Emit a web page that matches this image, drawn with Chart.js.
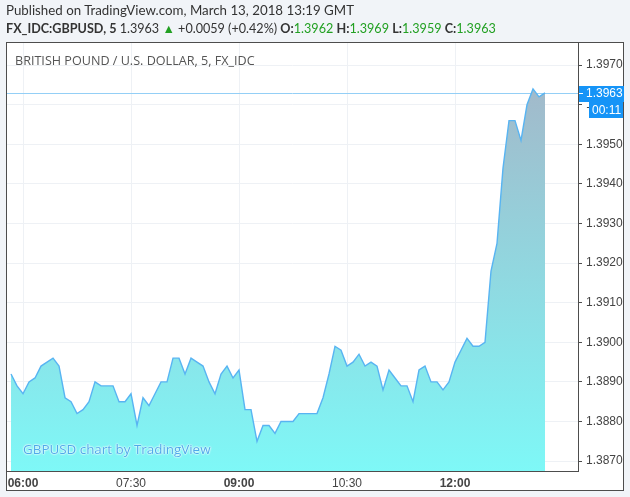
<!DOCTYPE html>
<html>
<head>
<meta charset="utf-8">
<script src="https://cdn.jsdelivr.net/npm/chart.js@4"></script>
<style>
  html, body { margin: 0; padding: 0; background: #f1f4f8; }
  #wrap { position: relative; width: 630px; height: 497px; overflow: hidden; }
  #chart { position: absolute; left: 0; top: 0; }
  .txt { position: absolute; white-space: nowrap; font-family: Lato, 'Open Sans', sans-serif; }
  #pub { left: 6px; top: 2px; font-size: 13.3px; color: #333; }
  #sym { left: 6px; top: 21px; font-size: 12.6px; color: #333; }
  #sym b { font-weight: bold; }
  #sym .g { color: #22a022; }
  #title { left: 15px; top: 52px; font-size: 12.6px; color: #555; font-family: 'Open Sans', sans-serif; }
  #wm { left: 23px; top: 440px; font-size: 13.4px; color: #4eaaea; font-family: 'Open Sans', sans-serif;
        text-shadow: 0 0 2px #fff, 0 0 2px #fff, 0 0 1px #fff; }
</style>
</head>
<body>
<div id="wrap">
  <canvas id="chart" width="630" height="497"></canvas>
  <div class="txt" id="pub">Published on TradingView.com, March 13, 2018 13:19 GMT</div>
  <div class="txt" id="sym"><b>FX_IDC:GBPUSD, 5</b> 1.3963 <span class="g">&#9650;</span> +0.0059 (+0.42%) <b>O:</b><span class="g">1.3962</span> <b>H:</b><span class="g">1.3969</span> <b>L:</b><span class="g">1.3959</span> <b>C:</b><span class="g">1.3963</span></div>
  <div class="txt" id="title">BRITISH POUND / U.S. DOLLAR, 5, FX_IDC</div>
  <div class="txt" id="wm">GBPUSD chart by TradingView</div>
</div>
<script>
// 5-minute closes, 05:50 .. 13:15
const closes = [
  1.3892, 1.3889, 1.3887, 1.3890, 1.3891, 1.3894, 1.3895, 1.3896, 1.3894, 1.3886,
  1.3885, 1.3882, 1.3883, 1.3885, 1.3890, 1.3889, 1.3889, 1.3889, 1.3885, 1.3885,
  1.3887, 1.3879, 1.3886, 1.3884, 1.3887, 1.3890, 1.3890, 1.3896, 1.3896, 1.3892,
  1.3896, 1.3895, 1.3894, 1.3890, 1.3887, 1.3892, 1.3894, 1.3891, 1.3893, 1.3883,
  1.3883, 1.3875, 1.3879, 1.3879, 1.3877, 1.3880, 1.3880, 1.3880, 1.3882, 1.3882,
  1.3882, 1.3882, 1.3886, 1.3892, 1.3899, 1.3898, 1.3894, 1.3895, 1.3897, 1.3894,
  1.3895, 1.3894, 1.3888, 1.3893, 1.3891, 1.3889, 1.3889, 1.3885, 1.3893, 1.3894,
  1.3890, 1.3890, 1.3888, 1.3890, 1.3895, 1.3898, 1.3901, 1.3899, 1.3899, 1.3900,
  1.3918, 1.3925, 1.3944, 1.3956, 1.3956, 1.3951, 1.3960, 1.3964, 1.3962, 1.3963
];
const startMinute = 5 * 60 + 50;
const times = closes.map((_, i) => {
  const m = startMinute + 5 * i;
  return String(Math.floor(m / 60)).padStart(2, '0') + ':' + String(m % 60).padStart(2, '0');
});
const xTickLabels = ['06:00', '07:30', '09:00', '10:30', '12:00'];
const boldTicks = ['06:00', '09:00', '12:00'];
const yTicks = [1.3870, 1.3880, 1.3890, 1.3900, 1.3910, 1.3920, 1.3930, 1.3940, 1.3950, 1.3960, 1.3970];
const countdown = '00:11';

const lastClose = closes[closes.length - 1];

// frame, price line and price labels
const tvPlugin = {
  id: 'tv',
  beforeDraw(chart) {
    const c = chart.ctx;
    c.save();
    c.fillStyle = '#ffffff';
    c.fillRect(6, 43, 617, 448);
    c.strokeStyle = '#4d4d4d';
    c.lineWidth = 1;
    c.strokeRect(6.5, 42.5, 617, 448);
    c.restore();
  },
  beforeDatasetsDraw(chart) {
    const c = chart.ctx;
    const a = chart.chartArea;
    const y = Math.round(chart.scales.y.getPixelForValue(lastClose)) + 0.5;
    c.save();
    c.strokeStyle = '#94cff6';
    c.lineWidth = 1;
    c.beginPath();
    c.moveTo(a.left, y);
    c.lineTo(a.right, y);
    c.stroke();
    c.restore();
  },
  afterDraw(chart) {
    const c = chart.ctx;
    const a = chart.chartArea;
    const y = Math.round(chart.scales.y.getPixelForValue(lastClose));
    c.save();
    c.fillStyle = '#1594f7';
    c.fillRect(a.right + 1, y - 7, 45, 16);
    c.fillRect(a.right + 11, y + 9, 34, 16);
    c.fillStyle = '#ffffff';
    c.fillRect(a.right + 1, y, 4, 1);
    c.font = '12px "Liberation Sans", Arial, sans-serif';
    c.textBaseline = 'middle';
    c.textAlign = 'left';
    c.fillText(lastClose.toFixed(4), a.right + 8, y + 1);
    c.fillText(countdown, a.right + 14, y + 17.5);
    c.restore();
  }
};

const ctx = document.getElementById('chart').getContext('2d');
const chart = new Chart(ctx, {
  type: 'line',
  data: {
    datasets: [{
      data: closes.map((v, i) => ({ x: i, y: v })),
      borderColor: '#58b4f2',
      borderWidth: 1.4,
      pointRadius: 0,
      tension: 0,
      fill: 'start',
      backgroundColor: (context) => {
        const area = context.chart.chartArea;
        if (!area) return 'rgba(126,246,246,0.8)';
        const g = context.chart.ctx.createLinearGradient(0, area.top, 0, area.bottom);
        g.addColorStop(0, '#a6b2c5');
        g.addColorStop(1, '#7ef8f7');
        return g;
      }
    }]
  },
  options: {
    responsive: false,
    animation: false,
    events: [],
    layout: { padding: { left: 7, top: 43, right: 7, bottom: 6 } },
    plugins: {
      legend: { display: false },
      tooltip: { enabled: false }
    },
    scales: {
      x: {
        type: 'linear',
        min: -0.67,
        max: 94.5,
        afterFit: (s) => { s.height = 20; },
        afterBuildTicks: (s) => { s.ticks = xTickLabels.map(l => ({ value: times.indexOf(l) })); },
        grid: { color: '#eef1f5', drawTicks: false },
        border: { color: '#4d4d4d' },
        ticks: {
          callback: (v) => times[v],
          color: '#444',
          padding: 5,
          maxRotation: 0,
          autoSkip: false,
          font: (c) => ({
            family: '"Liberation Sans", Arial, sans-serif',
            size: 12,
            weight: c.tick && boldTicks.includes(times[c.tick.value]) ? 'bold' : 'normal'
          })
        }
      },
      y: {
        position: 'right',
        min: 1.38675,
        max: 1.39756,
        afterFit: (s) => { s.width = 45; },
        afterBuildTicks: (s) => { s.ticks = yTicks.map(v => ({ value: v })); },
        grid: { color: '#eef1f5', tickColor: '#4d4d4d', tickLength: 4 },
        border: { color: '#4d4d4d' },
        ticks: {
          callback: (v) => v.toFixed(4),
          color: '#444',
          padding: 4,
          font: { family: '"Liberation Sans", Arial, sans-serif', size: 12 }
        }
      }
    }
  },
  plugins: [tvPlugin]
});
</script>
</body>
</html>
